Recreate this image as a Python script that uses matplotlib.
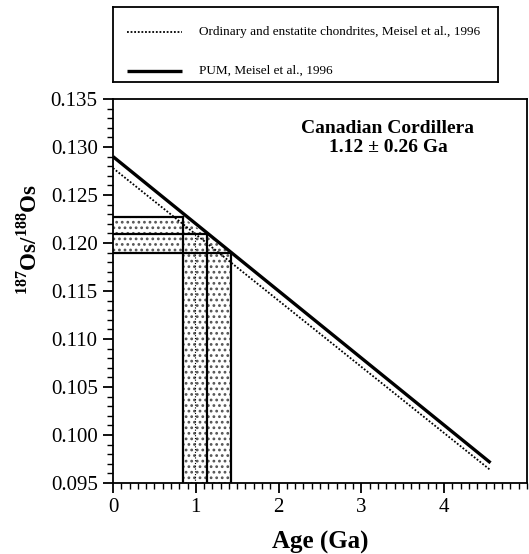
import numpy as np
import matplotlib
matplotlib.use("Agg")
import matplotlib.pyplot as plt
from matplotlib.ticker import MultipleLocator, FormatStrFormatter

plt.rcParams["font.family"] = ["Liberation Serif", "DejaVu Serif"]
plt.rcParams["mathtext.fontset"] = "custom"
plt.rcParams["mathtext.rm"] = "Liberation Serif:bold"
plt.rcParams["mathtext.bf"] = "Liberation Serif:bold"
plt.rcParams["hatch.linewidth"] = 1.2

# reference evolution lines (age Ga, 187Os/188Os)
pum_age = [0.0, 4.56]
pum_os = [0.1290, 0.0971]
chon_age = [0.0, 4.55]
chon_os = [0.1278, 0.0964]

# sample ratio and age estimate
os_mean, os_lo, os_hi = 0.1209, 0.1190, 0.1227
age_mean, age_lo, age_hi = 1.14, 0.84, 1.42
age_chon = 0.99

labels = ["Ordinary and enstatite chondrites, Meisel et al., 1996",
          "PUM, Meisel et al., 1996"]

fig = plt.figure(figsize=(5.29, 5.54), dpi=100)
ax = fig.add_axes([0.2136, 0.1282, 0.7826, 0.6931])

ymin = 0.095
# shaded error region (dotted fill)
px = [0, 0, age_lo, age_hi, age_hi, age_lo, age_lo]
py = [os_lo, os_hi, os_hi, os_lo, ymin, ymin, os_lo]
ax.fill(px, py, facecolor="white", edgecolor="#555555", hatch="...", linewidth=0, zorder=1)

# box outlines
lw = 1.6
ax.plot([0, age_lo], [os_hi, os_hi], color="black", lw=lw, zorder=2)
ax.plot([0, age_hi], [os_lo, os_lo], color="black", lw=lw, zorder=2)
ax.plot([age_lo, age_lo], [ymin, os_hi], color="black", lw=lw, zorder=2)
ax.plot([age_hi, age_hi], [ymin, os_lo], color="black", lw=lw, zorder=2)
ax.plot([0, age_mean], [os_mean, os_mean], color="black", lw=lw, zorder=2)
ax.plot([age_mean, age_mean], [ymin, os_mean], color="black", lw=lw, zorder=2)
ax.plot([age_chon, age_chon], [ymin, os_mean], color="black", lw=0.8, ls=(0, (1, 1.5)), zorder=2)

ax.plot(chon_age, chon_os, color="black", lw=1.3, ls=(0, (1, 1)), zorder=3)
ax.plot(pum_age, pum_os, color="black", lw=2.4, solid_capstyle="butt", zorder=3)

ax.set_xlim(0, 5.0)
ax.set_ylim(0.095, 0.135)
ax.xaxis.set_major_locator(MultipleLocator(1))
ax.xaxis.set_minor_locator(MultipleLocator(0.1))
ax.yaxis.set_major_locator(MultipleLocator(0.005))
ax.yaxis.set_minor_locator(MultipleLocator(0.001))
ax.yaxis.set_major_formatter(FormatStrFormatter("%.3f"))
ax.set_xticks([0, 1, 2, 3, 4])
ax.tick_params(which="major", direction="out", length=7, width=1.3, labelsize=15, pad=4)
ax.tick_params(which="minor", direction="out", length=4, width=1.0)
for s in ax.spines.values():
    s.set_linewidth(1.3)

ax.text(3.32, 0.1309, "Canadian Cordillera\n1.12 ± 0.26 Ga", ha="center", va="center",
        fontsize=14, fontweight="bold", linespacing=1.15)

ax.set_xlabel("Age (Ga)", fontsize=18, fontweight="bold", labelpad=10)
ax.set_ylabel("$^{187}$Os/$^{188}$Os", fontsize=16.5, fontweight="bold")
ax.yaxis.set_label_coords(-0.172, 0.635)

# legend box drawn in its own pixel-scaled axes
lg = fig.add_axes([113 / 529, 1 - 82 / 554, 385 / 529, 75 / 554])
lg.set_xlim(0, 385)
lg.set_ylim(75, 0)
lg.set_xticks([])
lg.set_yticks([])
for s in lg.spines.values():
    s.set_linewidth(1.3)
lg.plot([14, 69], [25, 25], color="black", lw=1.3, ls=(0, (1, 1)))
lg.plot([14, 69], [64, 64], color="black", lw=2.4, solid_capstyle="butt")
lg.text(86, 25, labels[0], fontsize=9.5, va="center", ha="left")
lg.text(86, 64, labels[1], fontsize=9.5, va="center", ha="left")

fig.savefig("out.png", dpi=100)
